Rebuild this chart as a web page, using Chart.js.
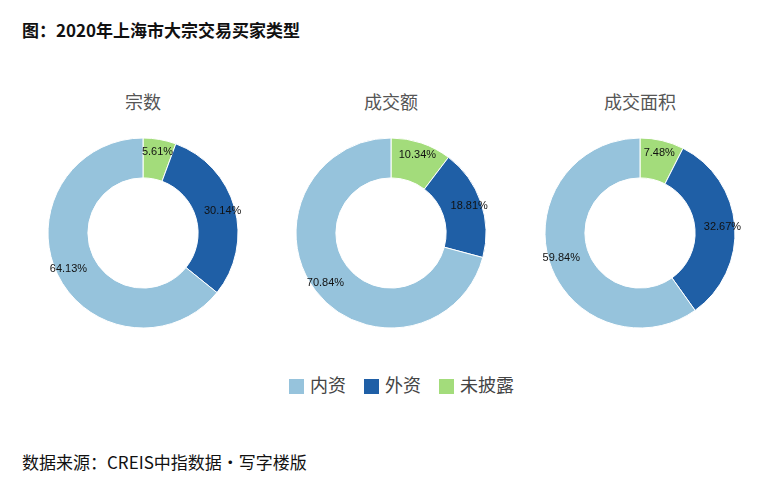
<!DOCTYPE html>
<html><head><meta charset="utf-8">
<script src="https://cdn.jsdelivr.net/npm/chart.js@4"></script>
<style>
body{margin:0;width:760px;height:499px;background:#fff;font-family:"Noto Sans CJK SC","Noto Sans",sans-serif;position:relative;overflow:hidden}
.t{position:absolute;white-space:nowrap}
.c{position:absolute;width:210px;height:210px}
.sw{display:inline-block;width:15px;height:15px;vertical-align:-2px;margin-right:6px}
</style></head><body>
<div class="t" style="left:22px;top:17px;font-size:17px;font-weight:bold;color:#111">图：2020年上海市大宗交易买家类型</div>
<div class="t" style="left:22px;top:449px;font-size:17px;color:#111">数据来源：CREIS中指数据·写字楼版</div>
<div class="t" id="lg" style="left:289px;top:371px;font-size:18px;color:#444"></div>
<div id="wrap"></div>
<script>
const categories=["内资","外资","未披露"];
const colors=["#96c3dc","#1f5fa6","#a3dc7b"];
const titles=["宗数","成交额","成交面积"];
const v1=[64.13,30.14,5.61];
const v2=[70.84,18.81,10.34];
const v3=[59.84,32.67,7.48];
const centersX=[143,391,640];
const cy=233;
const series=[v1,v2,v3];
const lg=document.getElementById('lg');
categories.forEach((c,i)=>{lg.innerHTML+=`<span style="margin-right:18px"><span class="sw" style="background:${colors[i]}"></span>${c}</span>`;});
const labelPlugin={id:'lbl',afterDatasetsDraw(ch){
  const ctx=ch.ctx;const meta=ch.getDatasetMeta(0);
  ctx.save();ctx.font='11px "Liberation Sans",Arial';ctx.fillStyle='#111';ctx.textAlign='center';ctx.textBaseline='middle';
  meta.data.forEach((a,i)=>{const m=(a.startAngle+a.endAngle)/2;const r=a.outerRadius*0.87;
    ctx.fillText(ch.data.datasets[0].data[i].toFixed(2)+'%',a.x+Math.cos(m)*r,a.y+Math.sin(m)*r);});
  ctx.restore();}};
series.forEach((vals,k)=>{
  const w=document.getElementById('wrap');
  const t=document.createElement('div');t.className='t';t.textContent=titles[k];
  t.style.cssText+=`top:88px;font-size:18px;color:#555;left:${centersX[k]-100}px;width:200px;text-align:center`;
  w.appendChild(t);
  const d=document.createElement('div');d.className='c';d.style.left=(centersX[k]-105)+'px';d.style.top=(cy-105)+'px';
  const cv=document.createElement('canvas');d.appendChild(cv);w.appendChild(d);
  const ord=[2,1,0];
  new Chart(cv,{type:'doughnut',plugins:[labelPlugin],
    data:{labels:ord.map(i=>categories[i]),datasets:[{data:ord.map(i=>vals[i]),backgroundColor:ord.map(i=>colors[i]),borderColor:'#fff',borderWidth:1}]},
    options:{responsive:true,maintainAspectRatio:false,animation:false,radius:95,cutout:'58%',
      layout:{padding:0},plugins:{legend:{display:false},tooltip:{enabled:false}}}});
});
</script></body></html>
